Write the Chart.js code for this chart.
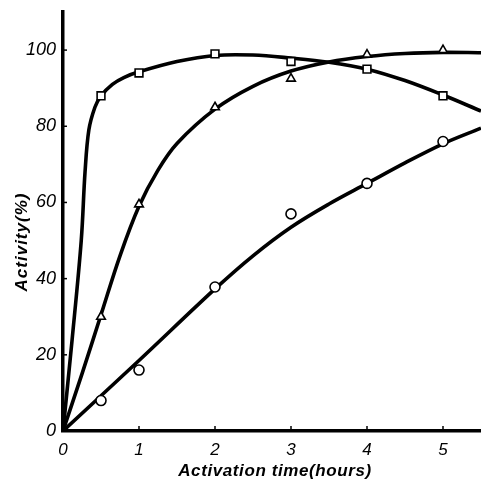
<!DOCTYPE html>
<html>
<head>
<meta charset="utf-8">
<script src="https://cdn.jsdelivr.net/npm/chart.js@4"></script>
<style>
  html, body { margin: 0; padding: 0; background: #fff; }
  #wrap { width: 481px; height: 481px; }
</style>
</head>
<body>
<div id="wrap"><canvas id="activityChart" width="481" height="481"></canvas></div>
<script>
// measured points (hours, % activity)
const hours = [0.5, 1, 2, 3, 4, 5];
const squareVals = [88, 94, 99, 97, 95, 88];
const triangleVals = [30, 59.5, 85, 92.5, 98.8, 100];
const circleVals = [8, 16, 37.8, 57, 65, 76];

// fitted curves
const squareCurveX = [0, 0.12, 0.24, 0.29, 0.34, 0.42, 0.5, 0.65, 0.8, 1, 1.5, 2, 2.5, 3, 3.5, 4, 4.5, 5, 5.5];
const squareCurveY = [0, 24, 50, 68, 79, 85, 88, 91, 92.8, 94.3, 97, 98.6, 98.7, 97.9, 96.8, 95, 92, 88.2, 84];
const triangleCurveX = [0, 0.25, 0.5, 0.75, 1, 1.25, 1.5, 2, 2.5, 3, 3.5, 4, 4.5, 5, 5.5];
const triangleCurveY = [0, 15, 30.5, 46, 59, 68.5, 75.5, 84.5, 90.5, 94.5, 96.9, 98.3, 99.1, 99.4, 99.3];
const circleCurveX = [0, 1, 2, 2.5, 3, 3.5, 4, 4.5, 5, 5.5];
const circleCurveY = [0, 18.5, 37.3, 46, 53.5, 59.6, 65, 70.4, 75.4, 79.5];

const xTicks = [0, 1, 2, 3, 4, 5];
const yTicks = [0, 20, 40, 60, 80, 100];

function pts(xs, ys) {
    return xs.map((x, i) => ({ x: x, y: ys[i] }));
}

function curve(xs, ys) {
    return {
        type: 'line',
        data: pts(xs, ys),
        borderColor: '#000',
        borderWidth: 3.6,
        pointRadius: 0,
        tension: 0.35,
        fill: false,
        order: 2
    };
}

function markers(vals, style, radius) {
    return {
        type: 'scatter',
        data: pts(hours, vals),
        pointStyle: style,
        pointRadius: radius,
        pointBackgroundColor: '#fff',
        pointBorderColor: '#000',
        pointBorderWidth: 1.6,
        showLine: false,
        order: 1
    };
}

// let the time axis run to the right edge of the canvas, as in the figure
const stretchRight = {
    id: 'stretchRight',
    afterLayout(chart) {
        const xs = chart.scales.x;
        xs.right = chart.width;
        xs.width = xs.right - xs.left;
        xs.configure();
        chart.chartArea.right = chart.width;
        chart.chartArea.width = chart.chartArea.right - chart.chartArea.left;
    }
};

// small inward tick marks and the two axis titles
const axisExtras = {
    id: 'axisExtras',
    afterDraw(chart) {
        const ctx = chart.ctx;
        const xs = chart.scales.x, ys = chart.scales.y;
        const area = chart.chartArea;
        ctx.save();
        ctx.strokeStyle = '#000';
        ctx.lineWidth = 1.5;
        yTicks.forEach(v => {
            if (v === 0) return;
            const py = ys.getPixelForValue(v);
            ctx.beginPath();
            ctx.moveTo(area.left, py);
            ctx.lineTo(area.left + 4, py);
            ctx.stroke();
        });
        xTicks.forEach(v => {
            if (v === 0) return;
            const px = xs.getPixelForValue(v);
            ctx.beginPath();
            ctx.moveTo(px, area.bottom);
            ctx.lineTo(px, area.bottom - 5);
            ctx.stroke();
        });
        ctx.fillStyle = '#000';
        ctx.font = 'italic bold 17px "Liberation Sans"';
        ctx.letterSpacing = '0.6px';
        ctx.textAlign = 'center';
        ctx.textBaseline = 'middle';
        ctx.fillText('Activation time(hours)', 275, 471);
        ctx.letterSpacing = '1px';
        ctx.translate(22, 242);
        ctx.rotate(-Math.PI / 2);
        ctx.fillText('Activity(%)', 0, 0);
        ctx.restore();
    }
};

new Chart(document.getElementById('activityChart'), {
    data: {
        datasets: [
            markers(squareVals, 'rect', 5.5),
            markers(triangleVals, 'triangle', 5),
            markers(circleVals, 'circle', 5),
            curve(squareCurveX, squareCurveY),
            curve(triangleCurveX, triangleCurveY),
            curve(circleCurveX, circleCurveY)
        ]
    },
    options: {
        responsive: false,
        animation: false,
        layout: { padding: { top: 12, right: 0, left: 0, bottom: 0 } },
        plugins: {
            legend: { display: false },
            tooltip: { enabled: false }
        },
        scales: {
            x: {
                type: 'linear',
                min: 0,
                max: 5.5,
                afterFit: s => { s.height = 50; s.paddingLeft = 0; s.paddingRight = 0; },
                afterBuildTicks: s => { s.ticks = xTicks.map(v => ({ value: v })); },
                grid: { display: false, drawTicks: false },
                border: { color: '#000', width: 3.5 },
                ticks: {
                    color: '#000',
                    padding: 9,
                    font: { family: 'Liberation Sans', size: 17, style: 'italic' }
                }
            },
            y: {
                type: 'linear',
                min: 0,
                max: 110,
                afterFit: s => { s.width = 63; s.paddingTop = 0; s.paddingBottom = 0; },
                afterBuildTicks: s => { s.ticks = yTicks.map(v => ({ value: v })); },
                grid: { display: false, drawTicks: false },
                border: { color: '#000', width: 3.5 },
                ticks: {
                    color: '#000',
                    padding: 7,
                    font: { family: 'Liberation Sans', size: 18, style: 'italic' }
                }
            }
        }
    },
    plugins: [stretchRight, axisExtras]
});
</script>
</body>
</html>
